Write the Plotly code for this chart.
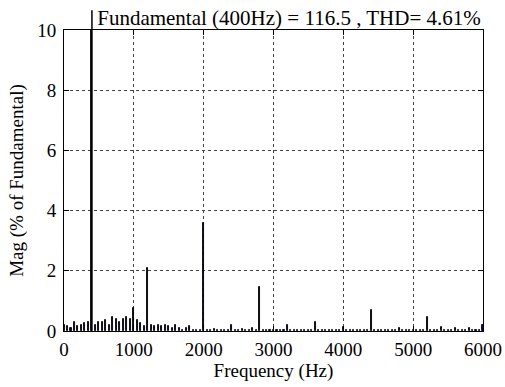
import numpy as np
import plotly.graph_objects as go

fund_freq = 400
fund_mag = 116.5
thd = 4.61

freq_step = 50
freqs = list(range(0, 6001, freq_step))
mags = [
    0.20, 0.15, 0.10, 0.30, 0.15, 0.20, 0.25, 0.30, 100.0, 0.20,   # 0-450
    0.30, 0.30, 0.35, 0.20, 0.45, 0.40, 0.30, 0.40, 0.45, 0.40,    # 500-950
    0.75, 0.35, 0.25, 0.15, 2.10, 0.20, 0.15, 0.20, 0.15, 0.20,    # 1000-1450
    0.15, 0.10, 0.20, 0.10, 0.05, 0.10, 0.15, 0.05, 0.05, 0.05,    # 1500-1950
    3.60, 0.05, 0.05, 0.08, 0.05, 0.05, 0.05, 0.05, 0.20, 0.05,    # 2000-2450
    0.05, 0.08, 0.05, 0.05, 0.10, 0.05, 1.45, 0.05, 0.05, 0.05,    # 2500-2950
    0.05, 0.05, 0.05, 0.05, 0.20, 0.05, 0.05, 0.05, 0.05, 0.05,    # 3000-3450
    0.05, 0.05, 0.30, 0.05, 0.05, 0.05, 0.05, 0.05, 0.05, 0.05,    # 3500-3950
    0.12, 0.05, 0.05, 0.05, 0.05, 0.05, 0.05, 0.05, 0.70, 0.05,    # 4000-4450
    0.05, 0.05, 0.05, 0.05, 0.05, 0.05, 0.10, 0.05, 0.05, 0.05,    # 4500-4950
    0.05, 0.05, 0.05, 0.05, 0.45, 0.05, 0.05, 0.05, 0.12, 0.05,    # 5000-5450
    0.05, 0.05, 0.10, 0.05, 0.05, 0.05, 0.10, 0.05, 0.05, 0.05,    # 5500-5950
    0.20,                                                          # 6000
]

x_ticks = [0, 1000, 2000, 3000, 4000, 5000, 6000]
y_ticks = [0, 2, 4, 6, 8, 10]

title_text = f"Fundamental ({fund_freq}Hz) = {fund_mag} , THD= {thd}%"

FONT = "Liberation Serif"

fig = go.Figure()
fig.add_trace(go.Bar(
    x=freqs, y=mags, width=freq_step * 0.3,
    marker=dict(color="#00007f", line=dict(color="black", width=0.9)),
))

# fundamental bar extends past the axes top (unclipped in original)
fig.add_shape(type="line", xref="x", yref="paper", x0=fund_freq, x1=fund_freq,
              y0=0, y1=1.066, line=dict(color="black", width=1.5))

axis_common = dict(
    showline=True, linecolor="black", linewidth=1, mirror="ticks",
    ticks="inside", ticklen=5, tickcolor="black",
    showgrid=True, gridcolor="#444", griddash="3px,3px", gridwidth=1,
    zeroline=False, automargin=False,
    tickfont=dict(family=FONT, size=19, color="black"),
)

fig.update_layout(
    width=505, height=387,
    margin=dict(l=64, r=22, t=30, b=56),
    paper_bgcolor="white", plot_bgcolor="white",
    showlegend=False,
    title=dict(text=title_text, x=0.537, xanchor="center", xref="paper",
               y=1 - 18 / 387, yanchor="middle", yref="container",
               font=dict(family=FONT, size=21, color="black")),
    xaxis=dict(range=[0, 6000], tickvals=x_ticks, ticklabelstandoff=1,
               title=dict(text="Frequency (Hz)", standoff=0,
                          font=dict(family=FONT, size=19, color="black")),
               **axis_common),
    yaxis=dict(range=[0, 10], tickvals=y_ticks, ticklabelstandoff=3,
               title=dict(text="Mag (% of Fundamental)", standoff=8,
                          font=dict(family=FONT, size=19, color="black")),
               **axis_common),
    bargap=0,
)

fig.write_html("out.html")
